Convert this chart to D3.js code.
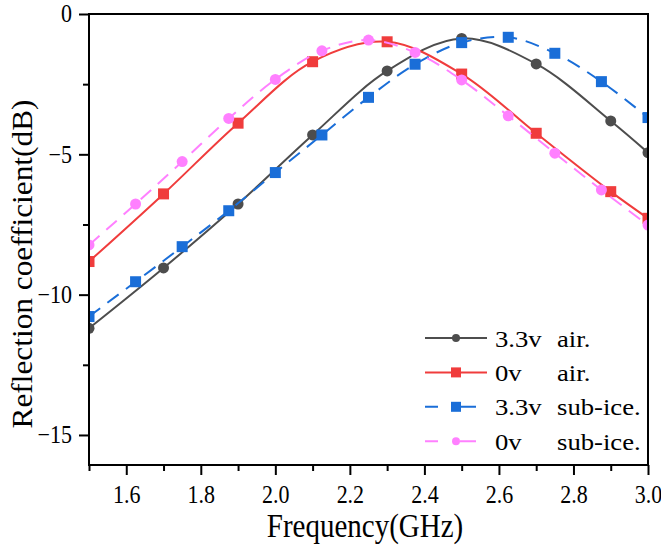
<!DOCTYPE html>
<html lang="en">
<head>
  <meta charset="UTF-8">
  <title>Reflection coefficient</title>
  <style>
    body { margin: 0; background: #fff; }
    text { font-family: "Liberation Serif", "Times New Roman", serif; fill: #000; }
  </style>
</head>
<body>
  <svg id="svg" width="661" height="549"></svg>

  <script src="https://d3js.org/d3.v7.min.js"></script>
  <script>
    // frequencies (GHz) where markers sit
    const airFreq = [1.5, 1.7, 1.9, 2.1, 2.3, 2.5, 2.7, 2.9, 3.0]
    const iceFreq = [1.5, 1.625, 1.75, 1.875, 2.0, 2.125, 2.25, 2.375, 2.5, 2.625, 2.75, 2.875, 3.0]

    // reflection coefficient (dB)
    const air33 = [-11.2, -9.05, -6.77, -4.31, -2.03, -0.87, -1.78, -3.81, -4.94]
    const air0 = [-8.82, -6.41, -3.89, -1.70, -0.99, -2.14, -4.25, -6.33, -7.28]
    const ice33 = [-10.78, -9.54, -8.29, -7.01, -5.65, -4.31, -2.97, -1.79, -1.02, -0.83, -1.40, -2.41, -3.69]
    const ice0 = [-8.23, -6.77, -5.26, -3.72, -2.33, -1.31, -0.93, -1.37, -2.35, -3.63, -4.96, -6.27, -7.52]

    const xTicks = [1.6, 1.8, 2.0, 2.2, 2.4, 2.6, 2.8, 3.0]
    const xMinor = [1.5, 1.7, 1.9, 2.1, 2.3, 2.5, 2.7, 2.9]
    const yTicks = [0, -5, -10, -15]
    const yMinor = [-2.5, -7.5, -12.5]

    const series = [
      { volt: '3.3v', medium: 'air.', freq: airFreq, vals: air33, color: '#4d4d4d', dash: null, shape: 'circle' },
      { volt: '0v', medium: 'air.', freq: airFreq, vals: air0, color: '#f03c3c', dash: null, shape: 'square' },
      { volt: '3.3v', medium: 'sub-ice.', freq: iceFreq, vals: ice33, color: '#1a6ed8', dash: '14,9', shape: 'square' },
      { volt: '0v', medium: 'sub-ice.', freq: iceFreq, vals: ice0, color: '#ff80ff', dash: '14,9', shape: 'circle' }
    ]

    const plotL = 89, plotR = 648, plotT = 14, plotB = 465

    const x = d3.scaleLinear().domain([1.5, 3.0]).range([plotL, plotR])
    const y = d3.scaleLinear().domain([-16.07, 0]).range([plotB, plotT])

    const svg = d3.select('#svg')

    svg.append('clipPath').attr('id', 'plot-clip')
      .append('rect')
      .attr('x', plotL).attr('y', plotT)
      .attr('width', plotR - plotL).attr('height', plotB - plotT)

    // axes
    const xAxis = svg.append('g')
      .attr('transform', `translate(0, ${plotB})`)
      .call(d3.axisBottom(x).tickValues(xTicks).tickSize(10).tickFormat(d3.format('.1f')))
    xAxis.select('.domain').remove()
    xAxis.selectAll('line').attr('stroke-width', 2)
    xAxis.selectAll('text')
      .attr('y', 0).attr('dy', 0)
      .attr('font-size', 22)
      .attr('transform', 'translate(0, 38) scale(1, 1.14)')

    const xAxisMinor = svg.append('g')
      .attr('transform', `translate(0, ${plotB})`)
      .call(d3.axisBottom(x).tickValues(xMinor).tickSize(6).tickFormat(''))
    xAxisMinor.select('.domain').remove()
    xAxisMinor.selectAll('line').attr('stroke-width', 2)

    const yAxis = svg.append('g')
      .attr('transform', `translate(${plotL}, 0)`)
      .call(d3.axisLeft(y).tickValues(yTicks).tickSize(10).tickFormat(d3.format('d')))
    yAxis.select('.domain').remove()
    yAxis.selectAll('line').attr('stroke-width', 2)
    yAxis.selectAll('text')
      .attr('x', 0).attr('dy', 0)
      .attr('font-size', 22)
      .attr('transform', 'translate(-17, 7.8) scale(1, 1.14)')

    const yAxisMinor = svg.append('g')
      .attr('transform', `translate(${plotL}, 0)`)
      .call(d3.axisLeft(y).tickValues(yMinor).tickSize(6).tickFormat(''))
    yAxisMinor.select('.domain').remove()
    yAxisMinor.selectAll('line').attr('stroke-width', 2)

    // series
    const line = d3.line()
      .x(d => x(d[0]))
      .y(d => y(d[1]))
      .curve(d3.curveCatmullRom.alpha(0.5))

    const plot = svg.append('g').attr('clip-path', 'url(#plot-clip)')

    function drawMarker(g, shape, color, cx, cy, size) {
      if (shape === 'circle') {
        g.append('circle').attr('cx', cx).attr('cy', cy).attr('r', size / 2).attr('fill', color)
      } else {
        g.append('rect')
          .attr('x', cx - size / 2).attr('y', cy - size / 2)
          .attr('width', size).attr('height', size)
          .attr('fill', color)
      }
    }

    series.forEach(s => {
      const pts = s.freq.map((f, i) => [f, s.vals[i]])
      plot.append('path')
        .attr('d', line(pts))
        .attr('fill', 'none')
        .attr('stroke', s.color)
        .attr('stroke-width', 2)
        .attr('stroke-dasharray', s.dash)
      pts.forEach(p => drawMarker(plot, s.shape, s.color, x(p[0]), y(p[1]), 11))
    })

    // frame
    svg.append('rect')
      .attr('x', plotL).attr('y', plotT)
      .attr('width', plotR - plotL).attr('height', plotB - plotT)
      .attr('fill', 'none')
      .attr('stroke', '#000')
      .attr('stroke-width', 2)

    // legend
    const legend = svg.append('g')
    series.forEach((s, i) => {
      const ly = 338 + i * 34.4
      legend.append('line')
        .attr('x1', 425).attr('x2', s.dash ? 476 : 487)
        .attr('y1', ly).attr('y2', ly)
        .attr('stroke', s.color)
        .attr('stroke-width', 2)
        .attr('stroke-dasharray', s.dash ? '13,22,16,40' : null)
      drawMarker(legend, s.shape, s.color, 456, ly, s.shape === 'circle' ? 8 : 10)
      legend.append('text')
        .attr('font-size', 23)
        .attr('transform', `translate(495, ${ly + 8.5}) scale(1.16, 1)`)
        .text(s.volt)
      legend.append('text')
        .attr('font-size', 23)
        .attr('transform', `translate(557, ${ly + 8.5}) scale(1.16, 1)`)
        .text(s.medium)
    })

    // axis titles
    svg.append('text')
      .attr('font-size', 29)
      .attr('text-anchor', 'middle')
      .attr('transform', `translate(365, 537) scale(1, 1.15)`)
      .text('Frequency(GHz)')

    svg.append('text')
      .attr('font-size', 29)
      .attr('text-anchor', 'middle')
      .attr('transform', `translate(32, 264) rotate(-90) scale(1.08, 1)`)
      .text('Reflection coefficient(dB)')
  </script>
</body>
</html>
